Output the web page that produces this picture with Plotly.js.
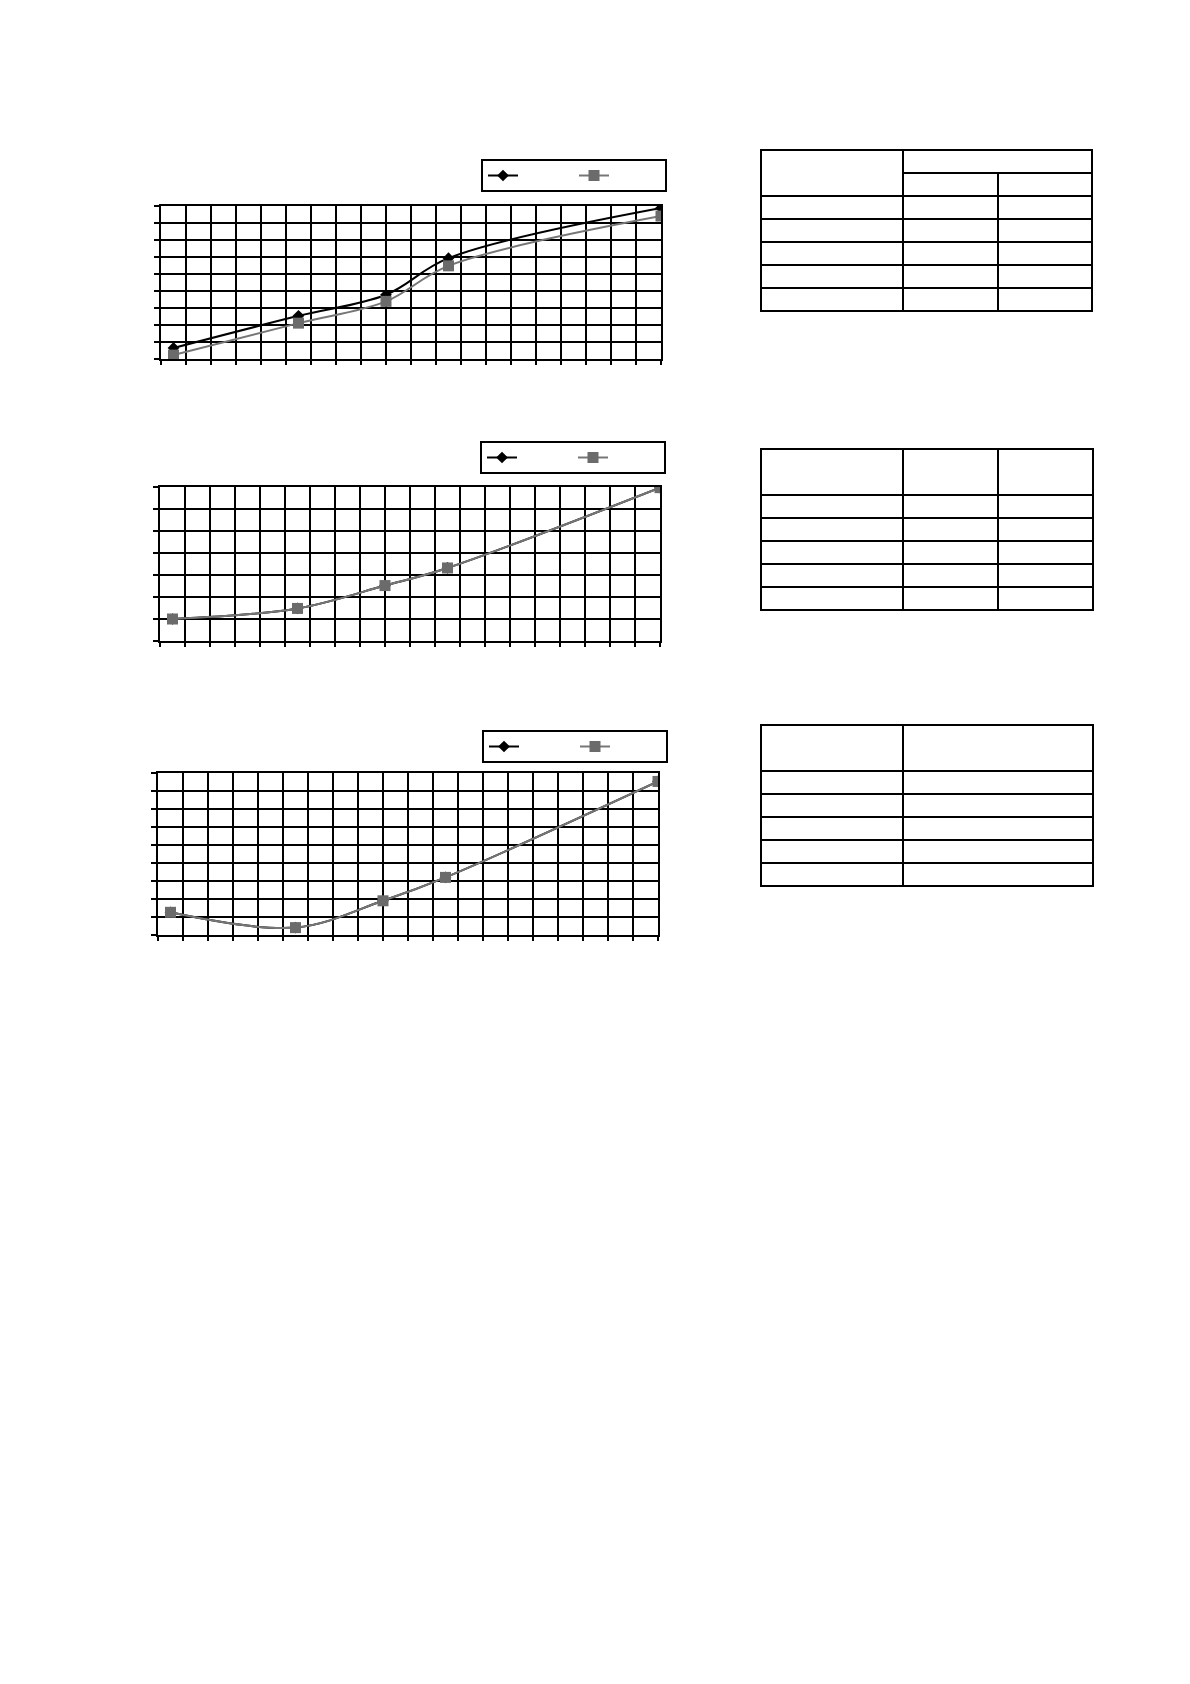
<!DOCTYPE html>
<html>
<head>
<meta charset="utf-8">
<script src="https://cdn.plot.ly/plotly-3.0.1.min.js"></script>
<style>
  html, body { margin: 0; padding: 0; background: #fff; }
  #page { width: 1190px; height: 1684px; }
</style>
</head>
<body>
<div id="page"></div>
<script>
// values (x and y in grid steps)
var xPoints = [0.5, 5.5, 9, 11.5, 20];
var chart1Black = [0.65, 2.54, 3.78, 5.93, 8.88];
var chart1Gray = [0.23, 2.11, 3.39, 5.48, 8.41];
// charts 2 and 3: the black series sits right under the gray one
var chart2Black = [1.0, 1.48, 2.52, 3.32, 6.97];
var chart2Gray = [1.0, 1.48, 2.52, 3.32, 6.97];
var chart3Black = [1.26, 0.41, 1.9, 3.2, 8.53];
var chart3Gray = [1.26, 0.41, 1.9, 3.2, 8.53];
var seriesNames = ['', ''];
var yMax = [9, 7, 9];
var xMax = 20;

// tables: blank cells, as in the picture
var bodyRows = ['', '', '', '', ''];
var headerRow = [''];

var W = 1190, H = 1684;
function px(x) { return x / W; }
function py(y) { return 1 - y / H; }

// plot boxes in page pixels [left, right, top, bottom]
var boxes = [
    [161, 661, 206, 359],
    [160, 660, 487, 641],
    [158, 658, 773, 935]
];
var legendPos = [[481, 159], [480, 441], [482, 730]];

var blackLine = {color: '#000000', width: 2, shape: 'spline'};
var grayLine = {color: '#767676', width: 2, shape: 'spline'};
var blackMarker = {symbol: 'diamond', size: 9, color: '#000000'};
var grayMarker = {symbol: 'square', size: 11, color: '#6b6b6b'};

var blacks = [chart1Black, chart2Black, chart3Black];
var grays = [chart1Gray, chart2Gray, chart3Gray];

var data = [];
var layout = {
    width: W,
    height: H,
    margin: {l: 0, r: 0, t: 0, b: 0},
    paper_bgcolor: '#ffffff',
    plot_bgcolor: '#ffffff',
    showlegend: true,
    font: {family: 'Liberation Sans, Arial, sans-serif', size: 11, color: '#000'}
};

boxes.forEach(function (b, i) {
    var n = i === 0 ? '' : String(i + 1);
    var legendId = 'legend' + n;
    data.push({
        x: xPoints, y: blacks[i], type: 'scatter', mode: 'lines+markers',
        name: seriesNames[0], line: blackLine, marker: blackMarker,
        xaxis: 'x' + n, yaxis: 'y' + n, legend: legendId, hoverinfo: 'skip'
    });
    data.push({
        x: xPoints, y: grays[i], type: 'scatter', mode: 'lines+markers',
        name: seriesNames[1], line: grayLine, marker: grayMarker,
        xaxis: 'x' + n, yaxis: 'y' + n, legend: legendId, hoverinfo: 'skip'
    });

    layout['xaxis' + n] = {
        domain: [px(b[0]), px(b[1])],
        anchor: 'y' + n,
        range: [0, xMax],
        dtick: 1,
        showgrid: true, gridcolor: '#000', gridwidth: 2,
        showline: true, linecolor: '#000', linewidth: 2, mirror: true,
        ticks: 'outside', ticklen: 4, tickwidth: 2, tickcolor: '#000',
        showticklabels: false, zeroline: false, fixedrange: true
    };
    layout['yaxis' + n] = {
        domain: [py(b[3]), py(b[2])],
        anchor: 'x' + n,
        range: [0, yMax[i]],
        dtick: 1,
        showgrid: true, gridcolor: '#000', gridwidth: 2,
        showline: true, linecolor: '#000', linewidth: 2, mirror: true,
        ticks: 'outside', ticklen: 5, tickwidth: 2, tickcolor: '#000',
        showticklabels: false, zeroline: false, fixedrange: true
    };
    layout[legendId] = {
        x: px(legendPos[i][0]), y: py(legendPos[i][1]),
        xanchor: 'left', yanchor: 'top',
        orientation: 'h',
        bgcolor: '#ffffff',
        bordercolor: '#000000', borderwidth: 2,
        entrywidth: 46,
        font: {size: 9}
    };
});

// table helper
var cellLine = {color: '#000000', width: 2};
function table(cols, x0, x1, y0, y1, headerHeight, rows, widths) {
    var vals = [];
    var heads = [];
    for (var c = 0; c < cols; c++) {
        vals.push(rows);
        heads.push(headerRow);
    }
    return {
        type: 'table',
        domain: {x: [px(x0), px(x1)], y: [py(y1), py(y0)]},
        columnwidth: widths,
        header: {values: heads, height: headerHeight, line: cellLine, fill: {color: '#fff'}},
        cells: {values: vals, height: 23, line: cellLine, fill: {color: '#fff'}},
        hoverinfo: 'skip'
    };
}

// table 1: first column spans both header rows, columns 2-3 share the top header cell
data.push(table(1, 761, 903, 150, 330, 46, bodyRows, [1]));
data.push(table(1, 903, 1093, 150, 200, 23, [], [1]));
data.push(table(2, 903, 1093, 173, 330, 23, bodyRows, [1, 1]));
// table 2
data.push(table(3, 761, 1093, 449, 630, 46, bodyRows, [142, 95, 95]));
// table 3
data.push(table(2, 761, 1093, 725, 905, 46, bodyRows, [142, 190]));

Plotly.newPlot('page', data, layout, {displayModeBar: false, staticPlot: true});
</script>
</body>
</html>
